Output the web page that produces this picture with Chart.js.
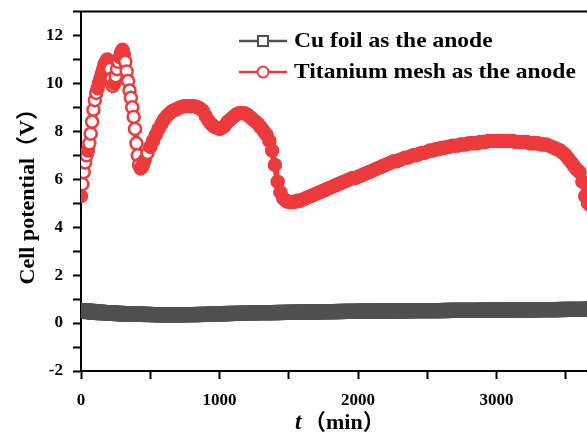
<!DOCTYPE html>
<html>
<head>
<meta charset="utf-8">
<script src="https://cdn.jsdelivr.net/npm/chart.js@4.4.1/dist/chart.umd.min.js"></script>
<style>
  html, body { margin: 0; padding: 0; background: #fff; overflow: hidden; }
  #wrap { width: 700px; height: 441px; }
</style>
</head>
<body>
<div id="wrap"><canvas id="chartForPotential"></canvas></div>
<script>
// time (min)
var timeMin = [
  0, 10, 20, 30, 40, 50, 60, 70, 80, 90,
  100, 110, 120, 130, 140, 150, 160, 170, 180, 190,
  200, 210, 220, 230, 240, 250, 260, 270, 280, 290,
  300, 310, 320, 330, 340, 350, 360, 370, 380, 390,
  400, 410, 420, 430, 440, 450,
  460, 480, 500, 520, 540, 560, 580, 600, 620, 640,
  660, 680, 700, 720, 740, 760, 780, 800, 820, 840,
  860, 880, 900, 920, 940, 960, 980, 1000, 1020, 1040,
  1060, 1080, 1100, 1120, 1140, 1160, 1180, 1200, 1220, 1240,
  1260, 1280, 1300, 1320, 1340, 1360, 1380, 1400, 1420, 1440,
  1460, 1480, 1500, 1520, 1540, 1560, 1580, 1600, 1620, 1640,
  1660, 1680, 1700, 1720, 1740, 1760, 1780, 1800, 1820, 1840,
  1860, 1880, 1900, 1920, 1940, 1960, 1980, 2000, 2020, 2040,
  2060, 2080, 2100, 2120, 2140, 2160, 2180, 2200, 2220, 2240,
  2260, 2280, 2300, 2320, 2340, 2360, 2380, 2400, 2420, 2440,
  2460, 2480, 2500, 2520, 2540, 2560, 2580, 2600, 2620, 2640,
  2660, 2680, 2700, 2720, 2740, 2760, 2780, 2800, 2820, 2840,
  2860, 2880, 2900, 2920, 2940, 2960, 2980, 3000, 3020, 3040,
  3060, 3080, 3100, 3120, 3140, 3160, 3180, 3200, 3220, 3240,
  3260, 3280, 3300, 3320, 3340, 3360, 3380, 3400, 3420, 3440,
  3460, 3480, 3500, 3520, 3540, 3560, 3580, 3600, 3620, 3640,
  3660, 3680, 3700
];

// Cu foil as the anode (V)
var cuFoil = [
  0.52, 0.51, 0.51, 0.5, 0.5, 0.49, 0.49, 0.48, 0.48, 0.47,
  0.47, 0.46, 0.46, 0.45, 0.45, 0.44, 0.44, 0.43, 0.43, 0.43,
  0.43, 0.42, 0.42, 0.41, 0.41, 0.4, 0.4, 0.4, 0.39, 0.39,
  0.39, 0.38, 0.38, 0.38, 0.38, 0.37, 0.37, 0.37, 0.37, 0.37,
  0.37, 0.36, 0.36, 0.36, 0.36, 0.36,
  0.36, 0.36, 0.35, 0.35, 0.35, 0.35, 0.34, 0.34, 0.34, 0.34,
  0.34, 0.34, 0.34, 0.34, 0.35, 0.35, 0.35, 0.35, 0.35, 0.35,
  0.36, 0.36, 0.36, 0.36, 0.37, 0.37, 0.38, 0.38, 0.38, 0.39,
  0.39, 0.4, 0.4, 0.4, 0.41, 0.41, 0.42, 0.42, 0.42, 0.42,
  0.43, 0.43, 0.43, 0.43, 0.44, 0.44, 0.44, 0.44, 0.44, 0.45,
  0.45, 0.45, 0.45, 0.45, 0.46, 0.46, 0.46, 0.46, 0.46, 0.46,
  0.47, 0.47, 0.47, 0.47, 0.47, 0.48, 0.48, 0.48, 0.48, 0.48,
  0.48, 0.49, 0.49, 0.49, 0.49, 0.49, 0.49, 0.49, 0.5, 0.5,
  0.5, 0.5, 0.5, 0.5, 0.5, 0.5, 0.5, 0.51, 0.51, 0.51,
  0.51, 0.51, 0.51, 0.51, 0.51, 0.51, 0.52, 0.52, 0.52, 0.52,
  0.52, 0.52, 0.52, 0.52, 0.52, 0.52, 0.52, 0.52, 0.52, 0.53,
  0.53, 0.53, 0.53, 0.53, 0.53, 0.53, 0.53, 0.53, 0.53, 0.53,
  0.53, 0.53, 0.54, 0.54, 0.54, 0.54, 0.54, 0.54, 0.54, 0.54,
  0.54, 0.54, 0.55, 0.55, 0.55, 0.55, 0.55, 0.55, 0.55, 0.55,
  0.55, 0.55, 0.56, 0.56, 0.56, 0.56, 0.56, 0.56, 0.56, 0.56,
  0.56, 0.57, 0.57, 0.57, 0.57, 0.57, 0.57, 0.57, 0.57, 0.57,
  0.58, 0.58, 0.58
];

// Titanium mesh as the anode (V)
var tiMesh = [
  5.3, 5.8, 6.3, 6.7, 7.0, 7.2, 7.5, 7.9, 8.4, 8.9,
  9.3, 9.6, 9.8, 10.0, 10.2, 10.4, 10.6, 10.8, 10.9, 11.0,
  10.9, 10.6, 10.2, 9.9, 10.0, 10.3, 10.6, 10.9, 11.1, 11.3,
  11.4, 11.2, 10.9, 10.5, 10.1, 9.7, 9.4, 9.0, 8.6, 8.1,
  7.5, 7.0, 6.6, 6.45, 6.5, 6.65,
  6.8, 7.1, 7.35, 7.6, 7.85, 8.1, 8.3, 8.5, 8.65, 8.75,
  8.85, 8.9, 8.95, 9.0, 9.05, 9.05, 9.05, 9.05, 9.05, 9.0,
  8.95, 8.85, 8.65, 8.45, 8.3, 8.2, 8.15, 8.1, 8.15, 8.25,
  8.4, 8.5, 8.6, 8.7, 8.75, 8.75, 8.75, 8.7, 8.6, 8.5,
  8.4, 8.3, 8.15, 8.0, 7.85, 7.6, 7.2, 6.6, 5.9, 5.45,
  5.2, 5.1, 5.05, 5.05, 5.05, 5.1, 5.1, 5.15, 5.2, 5.25,
  5.3, 5.35, 5.4, 5.45, 5.5, 5.55, 5.6, 5.65, 5.7, 5.75,
  5.8, 5.85, 5.9, 5.95, 6.0, 6.05, 6.05, 6.1, 6.15, 6.2,
  6.25, 6.3, 6.35, 6.4, 6.45, 6.5, 6.55, 6.6, 6.65, 6.7,
  6.75, 6.75, 6.8, 6.85, 6.9, 6.9, 6.95, 7.0, 7.0, 7.05,
  7.1, 7.1, 7.15, 7.2, 7.2, 7.25, 7.25, 7.3, 7.3, 7.35,
  7.35, 7.4, 7.4, 7.4, 7.45, 7.45, 7.45, 7.5, 7.5, 7.5,
  7.5, 7.55, 7.55, 7.55, 7.6, 7.6, 7.6, 7.6, 7.6, 7.6,
  7.6, 7.6, 7.6, 7.6, 7.55, 7.55, 7.55, 7.55, 7.55, 7.5,
  7.5, 7.5, 7.5, 7.45, 7.45, 7.45, 7.4, 7.35, 7.3, 7.25,
  7.2, 7.1, 7.0, 6.85, 6.7, 6.55, 6.4, 6.3, 5.9, 5.3,
  5.0, 4.9, 4.85
];

var legendLabels = ['Cu foil as the anode', 'Titanium mesh as the anode'];
var grayColor = '#505050';
var redColor = '#ec3b3d';
var serif = '"Liberation Serif", "Times New Roman", serif';

function toPoints(xs, ys) {
  var pts = [];
  for (var i = 0; i < xs.length; i++) {
    pts.push({ x: xs[i], y: ys[i] });
  }
  return pts;
}

// hollow markers only show in the fast first hours, elsewhere the band looks solid
function redFill(c) {
  var i = c.dataIndex;
  var prev = i > 0 ? tiMesh[i - 1] : tiMesh[i];
  if (timeMin[i] < 500 && Math.abs(tiMesh[i] - prev) > 0.25) return '#fff';
  return redColor;
}

// text a bit wider than the font, like the original figure
function wideText(ctx, text, x, y, sx) {
  ctx.save();
  ctx.translate(x, y);
  ctx.scale(sx, 1);
  ctx.fillText(text, 0, 0);
  ctx.restore();
}

// frame top line, legend inside the plot, x title with italic t
var decorPlugin = {
  id: 'decor',
  afterDraw: function (chart) {
    var ctx = chart.ctx;
    var area = chart.chartArea;
    ctx.save();

    ctx.strokeStyle = '#000';
    ctx.lineWidth = 2;
    ctx.beginPath();
    ctx.moveTo(area.left - 1, area.top);
    ctx.lineTo(area.right + 1, area.top);
    ctx.stroke();

    var rows = [
      { y: 41, color: grayColor, style: 'rect', text: legendLabels[0] },
      { y: 72, color: redColor, style: 'circle', text: legendLabels[1] }
    ];
    for (var i = 0; i < rows.length; i++) {
      var r = rows[i];
      ctx.strokeStyle = r.color;
      ctx.lineWidth = 2.5;
      ctx.beginPath();
      ctx.moveTo(239, r.y);
      ctx.lineTo(287, r.y);
      ctx.stroke();
      ctx.fillStyle = '#fff';
      ctx.lineWidth = 2;
      ctx.beginPath();
      if (r.style === 'rect') {
        ctx.rect(258, r.y - 5, 10, 10);
      } else {
        ctx.arc(263, r.y, 5.5, 0, Math.PI * 2);
      }
      ctx.fill();
      ctx.stroke();

      ctx.fillStyle = '#000';
      ctx.font = 'bold 21px ' + serif;
      ctx.textBaseline = 'middle';
      ctx.textAlign = 'left';
      wideText(ctx, r.text, 294, r.y + 1, 1.12);
    }

    ctx.fillStyle = '#000';
    ctx.textBaseline = 'alphabetic';
    ctx.font = 'italic bold 23px ' + serif;
    ctx.fillText('t', 295, 429);
    ctx.font = 'bold 22px ' + serif + ', "Noto Sans CJK SC"';
    ctx.fillText('（min）', 304, 429);

    ctx.restore();
  }
};

var ctx = document.getElementById('chartForPotential');
var chart = new Chart(ctx, {
  type: 'line',
  data: {
    datasets: [
      {
        label: legendLabels[0],
        data: toPoints(timeMin, cuFoil),
        borderColor: grayColor,
        borderWidth: 8,
        pointStyle: 'rect',
        pointRadius: 9,
        pointBorderWidth: 2.5,
        pointBorderColor: grayColor,
        pointBackgroundColor: grayColor,
        fill: false,
        tension: 0
      },
      {
        label: legendLabels[1],
        data: toPoints(timeMin, tiMesh),
        borderColor: redColor,
        borderWidth: 6,
        pointStyle: 'circle',
        pointRadius: 6,
        pointBorderWidth: 2.5,
        pointBorderColor: redColor,
        pointBackgroundColor: redFill,
        fill: false,
        tension: 0
      }
    ]
  },
  options: {
    responsive: true,
    maintainAspectRatio: false,
    animation: false,
    layout: { padding: { top: 7, right: 65, left: 0, bottom: 0 } },
    plugins: {
      legend: { display: false },
      tooltip: { enabled: false }
    },
    scales: {
      x: {
        type: 'linear',
        min: 0,
        max: 4000,
        afterFit: function (scale) { scale.height = 70; },
        border: { color: '#000', width: 2 },
        grid: {
          drawOnChartArea: false,
          tickLength: 8,
          tickColor: '#000',
          tickWidth: 2
        },
        ticks: {
          stepSize: 500,
          autoSkip: false,
          maxRotation: 0,
          padding: 11,
          color: '#000',
          font: { family: serif, size: 17, weight: 'bold' },
          callback: function (v) { return v % 1000 === 0 ? v : ''; }
        }
      },
      y: {
        min: -2,
        max: 13,
        afterFit: function (scale) {
          scale.width = 81;
          scale.paddingTop = 0;
          scale.paddingBottom = 0;
        },
        border: { color: '#000', width: 2 },
        grid: {
          drawOnChartArea: false,
          tickLength: 8,
          tickColor: '#000',
          tickWidth: 2
        },
        ticks: {
          stepSize: 1,
          autoSkip: false,
          padding: 10,
          color: '#000',
          font: { family: serif, size: 17, weight: 'bold' },
          callback: function (v) { return v % 2 === 0 ? v : ''; }
        },
        title: {
          display: true,
          text: 'Cell potential（V）',
          color: '#000',
          padding: { top: 15, bottom: 0 },
          font: { family: serif + ', "Noto Sans CJK SC"', size: 22, weight: 'bold' }
        }
      }
    }
  },
  plugins: [decorPlugin]
});
</script>
</body>
</html>
